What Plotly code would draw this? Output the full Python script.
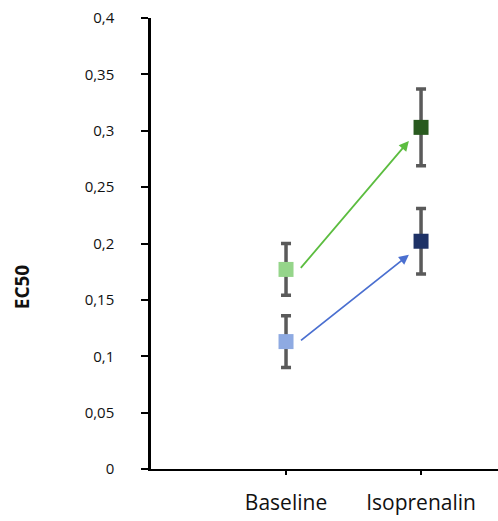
import plotly.graph_objects as go

categories = ["Baseline", "Isoprenalin"]
cat_pos = [1, 2]
green_vals = [0.177, 0.303]
green_err = [0.023, 0.034]
blue_vals = [0.113, 0.202]
blue_err = [0.023, 0.029]
green_colors = ["#95d58a", "#295a1f"]
blue_colors = ["#8eaae2", "#1e3266"]
y_ticks = [0, 0.05, 0.1, 0.15, 0.2, 0.25, 0.3, 0.35, 0.4]
y_title = "EC50"

fig = go.Figure()
for vals, errs, cols in [(green_vals, green_err, green_colors), (blue_vals, blue_err, blue_colors)]:
    fig.add_trace(go.Scatter(
        x=cat_pos, y=vals, mode="markers",
        marker=dict(symbol="square", size=15, color=cols, line=dict(width=0)),
        error_y=dict(type="data", array=errs, visible=True, color="#5a5a5a", thickness=3.5, width=5),
        showlegend=False, hoverinfo="skip",
    ))

arrow_specs = [(green_vals, "#5cbd40"), (blue_vals, "#4a6fd0")]
for vals, col in arrow_specs:
    fig.add_annotation(
        x=cat_pos[1] - 0.09, y=vals[1] - 0.012,
        ax=cat_pos[0] + 0.1, ay=vals[0],
        xref="x", yref="y", axref="x", ayref="y",
        showarrow=True, arrowhead=2, arrowsize=1.1, arrowwidth=1.8,
        arrowcolor=col, text="",
    )

fig.add_annotation(
    text="<b>" + y_title + "</b>", textangle=-90,
    xref="paper", yref="paper", x=-0.372, y=0.405,
    xanchor="center", yanchor="middle", showarrow=False,
    font=dict(size=19, color="#111111"),
)

fig.update_layout(
    width=498, height=521,
    margin=dict(l=151, r=0, t=18, b=52),
    plot_bgcolor="white", paper_bgcolor="white",
    separators=", ",
    font=dict(family="Open Sans, Liberation Sans, sans-serif", color="#111111"),
    xaxis=dict(
        range=[0, 2.57], tickvals=cat_pos, ticktext=categories,
        showgrid=False, zeroline=False,
        showline=True, linecolor="black", linewidth=2,
        ticks="outside", ticklen=4, tickwidth=2, tickcolor="black",
        tickfont=dict(size=21, color="#111111"),
        ticklabelstandoff=10,
    ),
    yaxis=dict(
        range=[0, 0.4], tickvals=y_ticks,
        tickformat="~g",
        showgrid=False, zeroline=False,
        showline=True, linecolor="black", linewidth=2.5,
        ticks="outside", ticklen=7, tickwidth=2, tickcolor="black",
        tickfont=dict(size=15, color="#111111"),
        ticklabelstandoff=24,
    ),
)

fig.write_html("out.html")
